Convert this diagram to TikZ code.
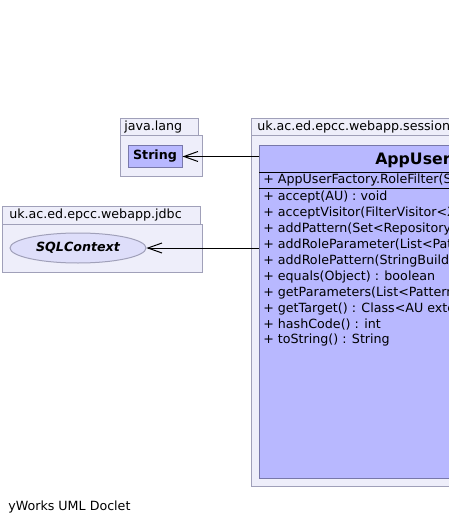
\documentclass[tikz,border=0pt]{standalone}
\usepackage{fontspec}
\setmainfont{DejaVu Sans}
\usetikzlibrary{arrows.meta,shapes.geometric}
\definecolor{pkgfill}{RGB}{238,238,250}
\definecolor{pkgline}{RGB}{160,160,185}
\definecolor{clsfill}{RGB}{184,184,255}
\definecolor{clsline}{RGB}{120,120,170}
\definecolor{ifcfill}{RGB}{222,222,250}
\tikzset{
  pkg/.style={draw=pkgline,fill=pkgfill,line width=0.75pt},
  cls/.style={draw=clsline,fill=clsfill,line width=0.75pt},
  lbl/.style={anchor=west,inner sep=0pt,font=\fontsize{9.5}{12}\selectfont},
  dep/.style={-{Straight Barb[length=10.5pt,width=7.5pt]},line width=0.75pt}
}
\begin{document}
\begin{tikzpicture}[x=0.75pt,y=-0.75pt]
		\useasboundingbox (0,0) rectangle (449,524);
		\clip (0,0) rectangle (449,524);
		% packages
		\draw[pkg] (120,136) rectangle (202,176);
		\draw[pkg] (120,119) rectangle (198,136);
		\node[lbl] (langname) at (124,127.5) {java.lang};
		\draw[pkg] (251,136) rectangle (600,486);
		\draw[pkg] (251,119) rectangle (600,136);
		\node[lbl] (sessionname) at (257,127.5) {uk.ac.ed.epcc.webapp.session};
		\draw[pkg] (2,224) rectangle (202,272);
		\draw[pkg] (2,206) rectangle (200,224);
		\node[lbl] (jdbcname) at (9,215) {uk.ac.ed.epcc.webapp.jdbc};
		% classes
		\node[cls,minimum width=40.5pt,minimum height=15.75pt,font=\fontsize{9.5}{12}\selectfont\bfseries] (string) at (155,156.5) {String};
		\node[ellipse,draw=pkgline,fill=ifcfill,line width=0.75pt,minimum width=102pt,minimum height=22.5pt,inner sep=0pt,font=\fontsize{9.5}{12}\selectfont\bfseries\itshape] (sqlcontext) at (78,248) {SQLContext};
		\node[cls,anchor=north west,minimum width=255.75pt,minimum height=249.75pt] (appuser) at (259,145) {};
		\draw[line width=0.75pt] (259,172) -- (600,172);
		\draw[line width=0.75pt] (259,188) -- (600,188);
		\node[anchor=west,inner sep=0pt,font=\fontsize{11.8}{15}\selectfont\bfseries] (title) at (375,160) {AppUser};
		\node[lbl] (ctor) at (263,180) {+ AppUserFactory.RoleFilter(S};
		\node[lbl] (m1) at (263,197) {+ accept(AU) : void};
		\node[lbl] (m2) at (263,213) {+ acceptVisitor(FilterVisitor<X};
		\node[lbl] (m3) at (263,229) {+ addPattern(Set<Repository};
		\node[lbl] (m4) at (263,245) {+ addRoleParameter(List<Pat};
		\node[lbl] (m5) at (263,261) {+ addRolePattern(StringBuild};
		\node[lbl] (m6) at (263,277) {+ equals(Object) : boolean};
		\node[lbl] (m7) at (263,293) {+ getParameters(List<Pattern};
		\node[lbl] (m8) at (263,309) {+ getTarget() : Class<AU exte};
		\node[lbl] (m9) at (263,325) {+ hashCode() : int};
		\node[lbl] (m10) at (263,340) {+ toString() : String};
		% dependencies
		\draw[dep] (appuser.west |- string.east) -- (string.east);
		\draw[dep] (appuser.west |- sqlcontext.east) -- (sqlcontext.east);
		\node[lbl] (credit) at (8,507) {yWorks UML Doclet};
\end{tikzpicture}
\end{document}
